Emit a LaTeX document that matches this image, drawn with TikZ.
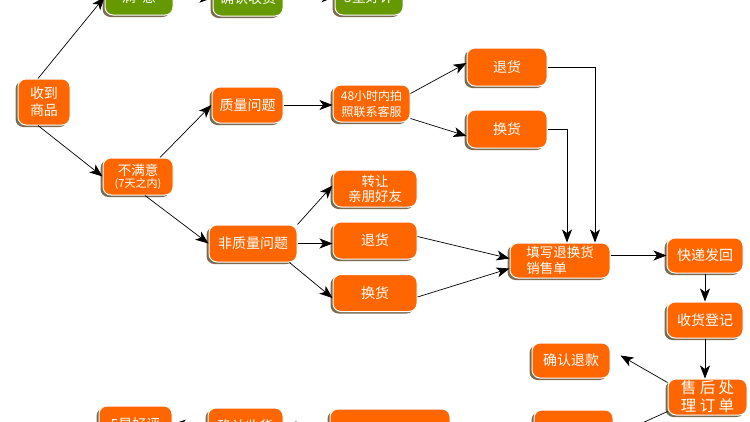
\documentclass[tikz,border=0pt]{standalone}
\usepackage{fontspec}
\setmainfont{Noto Sans CJK SC}
\usetikzlibrary{arrows.meta, positioning, shadows}
\definecolor{boxorange}{HTML}{FF6600}
\definecolor{boxgreen}{HTML}{669900}
\definecolor{boxshade}{HTML}{7A6A4F}
\tikzset{
    box/.style={draw=white, line width=1pt, fill=boxorange, rounded corners=8pt, align=center, text=white, inner sep=0pt, minimum height=36pt, font=\fontsize{14}{17}\selectfont, drop shadow={shadow xshift=-2.5pt, shadow yshift=-2pt, fill=boxshade, opacity=1}},
    greenbox/.style={box, fill=boxgreen},
    arrow/.style={-{Stealth[length=13pt,width=10pt,inset=3.5pt]}, line width=0.7pt}
}

\begin{document}
\begin{tikzpicture}[x=1pt, y=-1pt]
        \useasboundingbox (0,0) rectangle (750,421);
        \clip (0,0) rectangle (750,421);
        % first column
        \node [box, minimum width=52pt, minimum height=46pt] (recv) at (44,102) {收到\\商品};
        \node [box, minimum width=70pt, minimum height=37pt, font=\fontsize{13.5}{13}\selectfont] (nosat) at (138,176.5) {不满意\\[-1pt]{\fontsize{11}{12}\selectfont(7天之内)}};
        % satisfied row (top)
        \node [greenbox, minimum width=68pt] (sat) at (139,-3) {满\ \ 意};
        \node [greenbox, minimum width=70pt] (confirm) at (248,-2) {确认收货};
        \node [greenbox, minimum width=68pt] (five) at (369,-3) {5星好评};
        % quality problems
        \node [box, minimum width=71pt] (qual) at (247.5,105) {质量问题};
        \node [box, minimum width=77pt, minimum height=37pt, font=\fontsize{12}{16}\selectfont] (call) at (371.5,103.5) {48小时内拍\\照联系客服};
        \node [box, minimum width=80pt, minimum height=38pt] (ret1) at (507,67) {退货};
        \node [box, minimum width=80pt, minimum height=38pt] (exc1) at (507,129) {换货};
        % other problems
        \node [box, minimum width=88pt, minimum height=37pt] (nonq) at (253,243.5) {非质量问题};
        \node [box, minimum width=84pt, minimum height=37pt, font=\fontsize{13.5}{15}\selectfont] (gift) at (375,188.5) {转让\\亲朋好友};
        \node [box, minimum width=84pt, minimum height=37pt] (ret2) at (375,240.5) {退货};
        \node [box, minimum width=84pt, minimum height=37pt] (exc2) at (375,293) {换货};
        % after sales
        \node [box, minimum width=100pt, minimum height=35pt, align=left, font=\fontsize{13.5}{16}\selectfont] (form) at (560,260.5) {填写退换货\\销售单};
        \node [box, minimum width=76pt, minimum height=35pt] (express) at (705,255.5) {快递发回};
        \node [box, minimum width=76pt] (reg) at (705,320) {收货登记};
        \node [box, minimum width=79pt, font=\fontsize{15.5}{18}\selectfont] (order) at (707.5,397) {售 后 处\\理 订 单};
        \node [box, minimum width=78pt, minimum height=35pt] (refund) at (571,360.5) {确认退款};
        % bottom row
        \node [box, minimum width=79pt] (back) at (573.5,428) {};
        \node [box, minimum width=120pt] (resend) at (390,427) {};
        \node [box, minimum width=75pt] (confirmb) at (245.5,426) {确认收货};
        \node [box, minimum width=73pt] (fiveb) at (135.5,424) {5星好评};

        \draw [arrow] ([xshift=-6pt]recv.north) -- (sat.west);
        \draw [arrow] (sat.east) -- (confirm.west);
        \draw [arrow] (confirm.east) -- (five.west);
        \draw [arrow] ([xshift=-6pt]recv.south) -- (nosat.west);
        \draw [arrow] ([xshift=22pt]nosat.north) -- (qual.west);
        \draw [arrow] ([xshift=7pt]nosat.south) -- (nonq.west);
        \draw [arrow] (qual.east) -- (call.west |- qual.east);
        \draw [arrow] ([yshift=10pt]call.east) -- ([yshift=4pt]ret1.west);
        \draw [arrow] ([yshift=-15pt]call.east) -- ([yshift=-7pt]exc1.west);
        \draw [arrow] (ret1.east) -| ([xshift=35pt]form.north);
        \draw [arrow] (exc1.east) -| ([xshift=7pt]form.north);
        \draw [arrow] (nonq.north east) -- ([yshift=3pt]gift.west);
        \draw [arrow] (nonq.east) -- (ret2.west |- nonq.east);
        \draw [arrow] ([xshift=-8pt]nonq.south east) -- ([yshift=-5pt]exc2.west);
        \draw [arrow] ([yshift=4pt]ret2.east) -- ([yshift=2pt]form.west);
        \draw [arrow] ([yshift=-4pt]exc2.east) -- ([yshift=-8pt]form.west);
        \draw [arrow] (form.east |- express.west) -- (express.west);
        \draw [arrow] (express) -- (reg);
        \draw [arrow] (reg.south) -- (reg.south |- order.north);
        \draw [arrow] ([yshift=-4pt]order.north west) -- ([xshift=10pt,yshift=5pt]refund.east);
        \draw [arrow] ([yshift=4pt]order.south west) -- ([yshift=-8pt]back.east);
        \draw [arrow] (back.west) -- (resend.east);
        \draw [arrow] (resend.west) -- (confirmb.east);
        \draw [arrow] (confirmb.west) -- (fiveb.east);
    \end{tikzpicture}
\end{document}
